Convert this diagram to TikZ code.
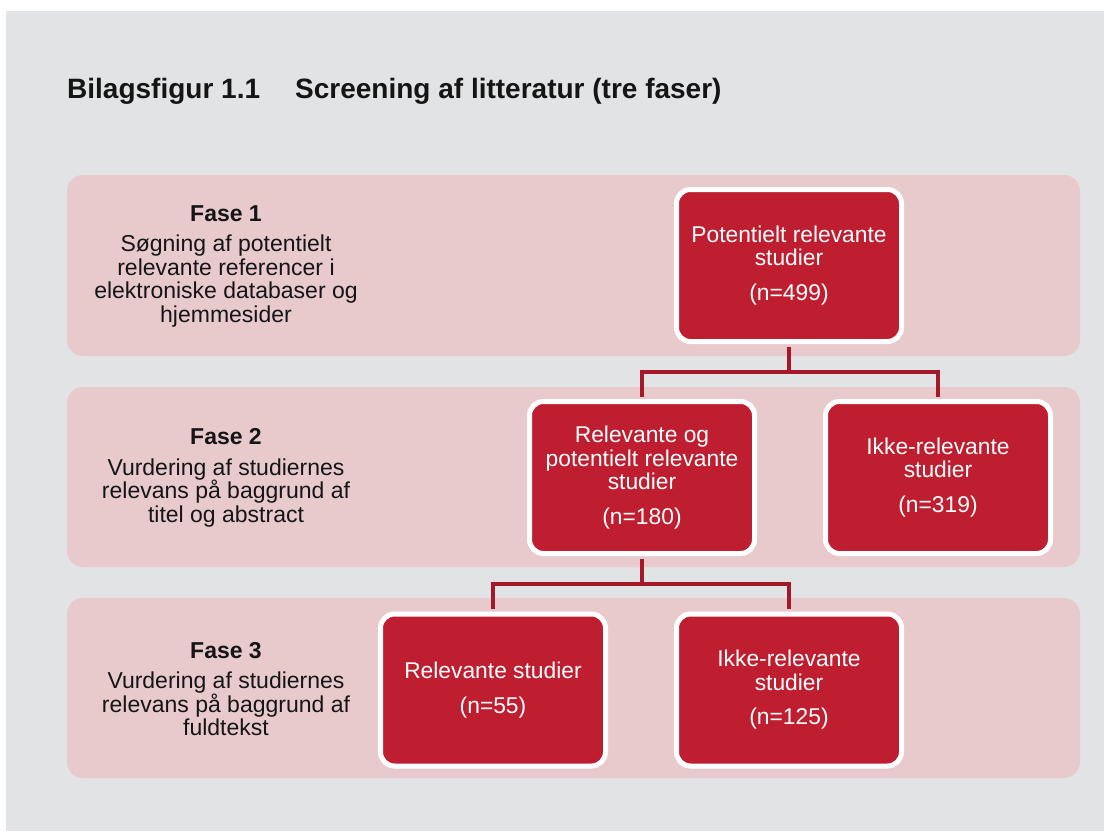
\documentclass[tikz,border=0pt]{standalone}
\usepackage{fontspec}
\setmainfont{Liberation Sans}
\definecolor{bggray}{HTML}{E2E3E5}
\definecolor{bandpink}{HTML}{E8CACC}
\definecolor{boxred}{HTML}{BE1E2F}
\definecolor{linkred}{HTML}{A3192A}
\definecolor{inkblack}{HTML}{151515}
\begin{document}
\begin{tikzpicture}[x=1pt, y=-1pt,
        band/.style={fill=bandpink, rounded corners=16pt},
        studybox/.style={draw=white, line width=5pt, fill=boxred, rounded corners=14pt,
            text=white, align=center, minimum width=225pt, minimum height=152pt,
            font=\fontsize{22.8}{23.5}\selectfont},
        phase/.style={align=center, text=inkblack, font=\fontsize{23}{23.5}\selectfont},
        headline/.style={anchor=base west, inner sep=0pt, text=inkblack, font=\bfseries\fontsize{28}{30}\selectfont},
        link/.style={draw=linkred, line width=4.5pt, shorten <=2.5pt}]
        \useasboundingbox (0,0) rectangle (1104,831);
        % Background
        \fill[bggray] (6,11) rectangle (1104,831);
        \fill[band] (67,175) rectangle (1080,356);
        \fill[band] (67,387) rectangle (1080,567);
        \fill[band] (67,598) rectangle (1080,778);
        % Title
        \node[headline] (figno) at (67,98) {Bilagsfigur 1.1};
        \node[headline] (figtitle) at (295,98) {Screening af litteratur (tre faser)};
        % Phases
        \node[phase] (fase1) at (226,266) {\textbf{Fase 1}\\[7pt] Søgning af potentielt\\ relevante referencer i\\ elektroniske databaser og\\ hjemmesider};
        \node[phase] (fase2) at (226,478) {\textbf{Fase 2}\\[7pt] Vurdering af studiernes\\ relevans på baggrund af\\ titel og abstract};
        \node[phase] (fase3) at (226,689) {\textbf{Fase 3}\\[7pt] Vurdering af studiernes\\ relevans på baggrund af\\ fuldtekst};
        % Boxes
        \node[studybox] (pot) at (789,265.5) {Potentielt relevante\\ studier\\[11pt] (n=499)};
        \node[studybox] (rel) at (642,477.5) {Relevante og\\ potentielt relevante\\ studier\\[11pt] (n=180)};
        \node[studybox] (ikke1) at (938,477.5) {Ikke-relevante\\ studier\\[11pt] (n=319)};
        \node[studybox] (relfin) at (493,690) {Relevante studier\\[11pt] (n=55)};
        \node[studybox] (ikke2) at (789,690) {Ikke-relevante\\ studier\\[11pt] (n=125)};
        % Lines
        \coordinate (split1) at (789,372);
        \coordinate (split2) at (642,584);
        \draw[link] (pot.south) -- (split1);
        \draw[link, shorten >=2.5pt] (rel.north) |- (split1) -| (ikke1.north);
        \draw[link] (rel.south) -- (split2);
        \draw[link, shorten >=2.5pt] (relfin.north) |- (split2) -| (ikke2.north);
\end{tikzpicture}
\end{document}
